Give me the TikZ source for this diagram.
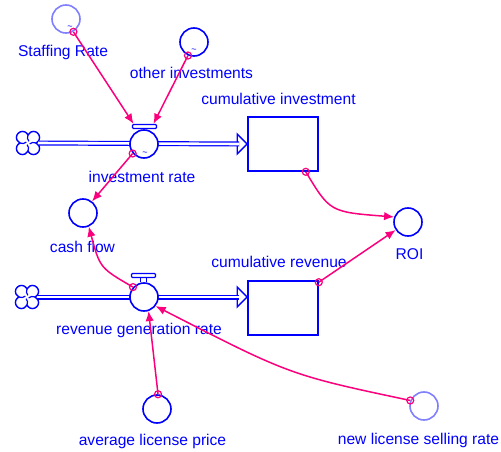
\documentclass[tikz,border=0pt]{standalone}
\usepackage{fontspec}
\setmainfont{Liberation Sans}
\usetikzlibrary{arrows.meta,calc}
\definecolor{sdblue}{RGB}{0,0,255}
\definecolor{sdlight}{RGB}{128,128,255}
\definecolor{sdpink}{RGB}{250,0,125}
\tikzset{
  cloudsym/.pic={
    \draw[sdblue,line width=1.4pt,fill=white]
      (0,7.29) arc[start angle=155.4,end angle=-65.4,radius=5.5]
               arc[start angle=65.4,end angle=-155.4,radius=5.5]
               arc[start angle=-24.6,end angle=-245.4,radius=5.5]
               arc[start angle=-114.6,end angle=-335.4,radius=5.5] -- cycle;
    \draw[sdblue,line width=1.2pt]
      (7.29,0) arc[start angle=-65.4,end angle=-130,radius=5.5]
      (0,-7.29) arc[start angle=-155.4,end angle=-220,radius=5.5]
      (-7.29,0) arc[start angle=-245.4,end angle=-310,radius=5.5]
      (0,7.29) arc[start angle=-335.4,end angle=-400,radius=5.5];
  }
}
\begin{document}
\begin{tikzpicture}[x=1pt,y=-1pt,
  aux/.style={circle,draw=sdblue,line width=1.6pt,minimum size=28pt,inner sep=0pt,fill=white},
  auxlight/.style={aux,draw=sdlight},
  stock/.style={rectangle,draw=sdblue,line width=1.6pt,minimum width=70pt,minimum height=54pt,inner sep=0pt,fill=white},
  lbl/.style={text=sdblue,font=\fontsize{15.6}{18}\selectfont,anchor=base,inner sep=0pt},
  tld/.style={text=sdblue,font=\fontsize{9}{9}\selectfont,inner sep=0pt},
  link/.style={draw=sdpink,line width=1.5pt,-{Latex[length=10pt,width=8.5pt]}},
  origin/.style={draw=sdpink,line width=1.2pt},
  pipe/.style={draw=sdblue,double=white,double distance=2.6pt,line width=1.2pt},
  vbar/.style={rectangle,draw=sdblue,fill=white,line width=1.4pt,minimum width=24pt,minimum height=4pt,inner sep=0pt,rounded corners=1pt},
  stemline/.style={draw=sdblue,line width=1.3pt},
  flowhead/.style={draw=sdblue,line width=1.4pt,fill=white,line join=miter}
]
\useasboundingbox (0,0) rectangle (501,452);

% clouds
\coordinate (cl1) at (28,143);
\coordinate (cl2) at (27,297);
\pic[scale=1.1] at (cl1) {cloudsym};
\pic[scale=1.1] at (cl2) {cloudsym};

% stocks
\node[stock] (ci) at (283,144) {};
\node[stock] (cr) at (283,308) {};

% valves
\coordinate (irc) at (144,144);
\coordinate (rgc) at (144,297);

% pipes
\draw[flowhead] ($(irc -| ci.west)+(-10,-10)$) -- (irc -| ci.west) -- ($(irc -| ci.west)+(-10,10)$) -- cycle;
\draw[flowhead] ($(rgc -| cr.west)+(-10,-10)$) -- (rgc -| cr.west) -- ($(rgc -| cr.west)+(-10,10)$) -- cycle;
\draw[pipe] ([xshift=10pt]cl1) -- ($(irc -| ci.west)+(-8,0)$);
\draw[pipe] ([xshift=10pt]cl2) -- ($(rgc -| cr.west)+(-8,0)$);

\node[aux] (ir) at (irc) {};
\node[aux] (rg) at (rgc) {};
\node[vbar] (irb) at (144.5,126.5) {};
\node[vbar] (rgb) at (143.5,275.5) {};
\draw[stemline] ([xshift=-3pt]irb.south) -- ([xshift=-3pt]irb.south |- ir.north)
                ([xshift=3pt]irb.south) -- ([xshift=3pt]irb.south |- ir.north);
\draw[stemline] ([xshift=-3pt]rgb.south) -- ([xshift=-3pt]rgb.south |- rg.north)
                ([xshift=3pt]rgb.south) -- ([xshift=3pt]rgb.south |- rg.north);

% auxiliaries
\node[auxlight] (sr) at (66,19) {};
\node[aux] (oi) at (194,42) {};
\node[aux] (cf) at (83,213) {};
\node[aux] (roi) at (408,222) {};
\node[aux] (al) at (157,409) {};
\node[auxlight] (nl) at (424,406) {};

% tildes
\node[tld] (t1) at (70,28) {\textasciitilde};
\node[tld] (t2) at (194,51) {\textasciitilde};
\node[tld] (t3) at (145,154) {\textasciitilde};

% labels
\node[lbl] (lsr) at (63,57) {Staffing Rate};
\node[lbl] (loi) at (191.5,79) {other investments};
\node[lbl] (lci) at (278.5,105) {cumulative investment};
\node[lbl] (lir) at (142,182) {investment rate};
\node[lbl] (lcf) at (82.5,252) {cash flow};
\node[lbl] (lcr) at (279,267) {cumulative revenue};
\node[lbl] (lroi) at (409.5,259) {ROI};
\node[lbl] (lrg) at (139,334) {revenue generation rate};
\node[lbl] (lal) at (152.5,445) {average license price};
\node[lbl] (lnl) at (418.5,444) {new license selling rate};

% connectors
\draw[link] (sr.-60) -- ([xshift=-11pt]irb.north);
\draw[origin] (sr.-60) circle[radius=3.5pt];
\draw[link] (oi.-114) -- ([xshift=9pt]irb.north);
\draw[origin] (oi.-114) circle[radius=3.5pt];
\draw[link] (ir.-140) -- (cf.52);
\draw[origin] (ir.-140) circle[radius=3.5pt];
\draw[link] (rg.138) .. controls (100,268) .. (cf.-67);
\draw[origin] (rg.138) circle[radius=3.5pt];
\draw[link] ([xshift=-13pt]ci.south east) .. controls (330,212) .. (roi.160);
\draw[origin] ([xshift=-13pt]ci.south east) circle[radius=3.5pt];
\draw[link] ([yshift=-2pt]cr.north east) -- (roi.-147);
\draw[origin] ([yshift=-2pt]cr.north east) circle[radius=3.5pt];
\draw[link] (al.86) -- (rg.-72);
\draw[origin] (al.86) circle[radius=3.5pt];
\draw[link] (nl.158) .. controls (290,375) .. (rg.-38);
\draw[origin] (nl.158) circle[radius=3.5pt];
\end{tikzpicture}
\end{document}
